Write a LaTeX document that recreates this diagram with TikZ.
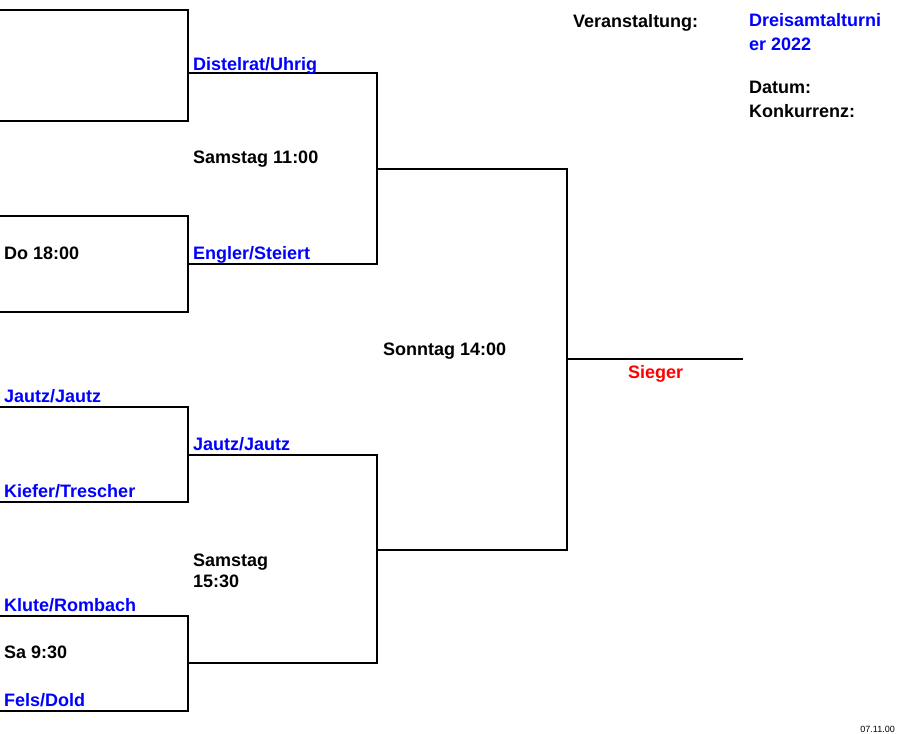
\documentclass[tikz,border=0pt]{standalone}
\usepackage{fontspec}
\setmainfont{Liberation Sans}
\usetikzlibrary{calc}

\tikzset{
    bracket/.style={line width=2pt},
    lbl/.style={anchor=base west, inner sep=0pt, font=\bfseries\fontsize{18}{21}\selectfont},
    team/.style={lbl, text=blue},
    winner/.style={lbl, text=red}
}

\begin{document}
\begin{tikzpicture}[x=1pt,y=-1pt]
    \useasboundingbox (0,0) rectangle (898,734); % keeps the page size

    % first round
    \foreach \n/\t/\b/\w in {1/10/121/73,2/216/312/264,3/407/502/455,4/616/711/663}{
        \coordinate (top\n) at (0,\t);
        \coordinate (bot\n) at (0,\b);
        \coordinate (win\n) at (188,\w);
        \draw[bracket] (top\n) -| (win\n) |- (bot\n);
    }

    % semi finals and final
    \coordinate (semi1) at (377,169);
    \coordinate (semi2) at (377,550);
    \coordinate (fin) at (567,359);
    \coordinate (champ) at (743,359);
    \draw[bracket] (win1) -| (semi1) |- (win2);
    \draw[bracket] (win3) -| (semi2) |- (win4);
    \draw[bracket] (semi1) -| (fin) |- (semi2);
    \draw[bracket] (fin) -- (champ);

    \node[lbl] (time2) at (4,259) {Do 18:00};
    \node[team] (p3a) at (4,402) {Jautz/Jautz};
    \node[team] (p3b) at (4,497) {Kiefer/Trescher};
    \node[team] (p4a) at (4,611) {Klute/Rombach};
    \node[lbl] (time4) at (4,658) {Sa 9:30};
    \node[team] (p4b) at (4,706) {Fels/Dold};

    \node[team] (w1) at (193,70) {Distelrat/Uhrig};
    \node[lbl] (timeS1) at (193,163) {Samstag 11:00};
    \node[team] (w2) at (193,259) {Engler/Steiert};
    \node[team] (w3) at (193,450) {Jautz/Jautz};
    \node[lbl, align=left, anchor=north west] (timeS2) at (193,554) {Samstag\\15:30};

    \node[lbl] (timeF) at (383,355) {Sonntag 14:00};
    \node[winner] (sieger) at (628,378) {Sieger};

    \node[lbl] (event) at (573,27) {Veranstaltung:};
    \node[team, align=left, anchor=north west, font=\bfseries\fontsize{18}{24}\selectfont] (eventname) at (749,13) {Dreisamtalturni\\er 2022};
    \node[lbl] (date) at (749,93) {Datum:};
    \node[lbl] (comp) at (749,117) {Konkurrenz:};
    \node[anchor=base east, inner sep=0pt, font=\fontsize{9}{10}\selectfont] (stamp) at (895,732) {07.11.00};
\end{tikzpicture}
\end{document}
